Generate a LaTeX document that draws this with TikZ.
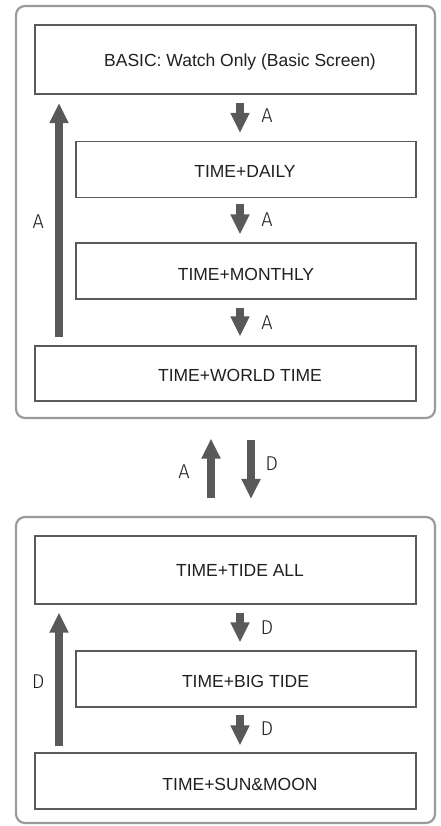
\documentclass[tikz,border=0pt]{standalone}
\usepackage{fontspec}
\setmainfont{Liberation Sans}
\newfontfamily\keyfont{Fira Sans Light}
\usetikzlibrary{arrows.meta,calc}
\definecolor{arrgray}{HTML}{58595B}
\definecolor{framegray}{HTML}{9A9A9A}
\definecolor{boxline}{HTML}{5A5A5A}
\definecolor{txt}{HTML}{231F20}
\begin{document}
\begin{tikzpicture}[x=1pt,y=-1pt,
  frame/.style={draw=framegray,line width=2.2pt,rounded corners=9pt,minimum width=419pt,inner sep=0pt},
  modebox/.style={draw=boxline,line width=1.3pt,fill=white,inner sep=0pt},
  modetext/.style={anchor=base,font=\fontsize{17.5}{20}\selectfont,text=txt,inner sep=0pt},
  keylabel/.style={anchor=base,font=\keyfont\fontsize{20}{22}\selectfont,text=txt,inner sep=0pt},
  press/.style={draw=arrgray,line width=8pt,-{Triangle[width=18pt,length=20pt]}},
]
\useasboundingbox[fill=white] (0,0) rectangle (440,826);

% outer groups
\node[frame,minimum height=412pt] (g1) at (225.5,212) {};
\node[frame,minimum height=306pt] (g2) at (225.5,670) {};

% mode boxes
\node[modebox,minimum width=381pt,minimum height=69pt] (b1) at (225.5,59.5) {};
\node[modebox,minimum width=340pt,minimum height=56pt] (b2) at (246,169.5) {};
\node[modebox,minimum width=340pt,minimum height=56pt] (b3) at (246,271) {};
\node[modebox,minimum width=381pt,minimum height=55pt] (b4) at (225.5,373.5) {};
\node[modebox,minimum width=381pt,minimum height=68pt] (b5) at (225.5,570) {};
\node[modebox,minimum width=340pt,minimum height=56pt] (b6) at (246,679) {};
\node[modebox,minimum width=381pt,minimum height=56pt] (b7) at (225.5,781) {};

% texts
\node[modetext] (t1) at (240,66.5) {BASIC: Watch Only (Basic Screen)};
\node[modetext] (t2) at (245,177.7) {TIME+DAILY};
\node[modetext] (t3) at (246,280) {TIME+MONTHLY};
\node[modetext] (t4) at (240,381.7) {TIME+WORLD TIME};
\node[modetext] (t5) at (240,576.7) {TIME+TIDE ALL};
\node[modetext] (t6) at (245.5,687.7) {TIME+BIG TIDE};
\node[modetext] (t7) at (240,790) {TIME+SUN\&MOON};

% arrow columns
\coordinate (cx) at (240,0);
\coordinate (lx) at (59,0);
\coordinate (ux) at (211,0);
\coordinate (dx) at (251,0);

% small down arrows
\draw[press,shorten <=8pt,shorten >=8pt] (b1.south -| cx) -- (b2.north -| cx);
\draw[press,shorten <=6pt,shorten >=8pt] (b2.south -| cx) -- (b3.north -| cx);
\draw[press,shorten <=8pt,shorten >=9pt] (b3.south -| cx) -- (b4.north -| cx);
\draw[press,shorten <=8pt,shorten >=8pt] (b5.south -| cx) -- (b6.north -| cx);
\draw[press,shorten <=7pt,shorten >=7pt] (b6.south -| cx) -- (b7.north -| cx);

% big return arrows
\draw[press,shorten <=8pt,shorten >=8.5pt] (b4.north -| lx) -- (b1.south -| lx);
\draw[press,shorten <=6pt,shorten >=8pt] (b7.north -| lx) -- (b5.south -| lx);

% group switch arrows
\draw[press,shorten <=18pt,shorten >=19.5pt] (g2.north -| ux) -- (g1.south -| ux);
\draw[press,shorten <=21pt,shorten >=17pt] (g1.south -| dx) -- (g2.north -| dx);

% key labels
\node[keylabel] (k1) at (267,122.7) {A};
\node[keylabel] (k2) at (267,226) {A};
\node[keylabel] (k3) at (267,329.3) {A};
\node[keylabel] (kl1) at (38.3,228.3) {A};
\node[keylabel] (km1) at (184,478) {A};
\node[keylabel] (km2) at (271.7,470.7) {D};
\node[keylabel] (k4) at (267,634) {D};
\node[keylabel] (k5) at (267,735.5) {D};
\node[keylabel] (kl2) at (38.3,688) {D};
\end{tikzpicture}
\end{document}
